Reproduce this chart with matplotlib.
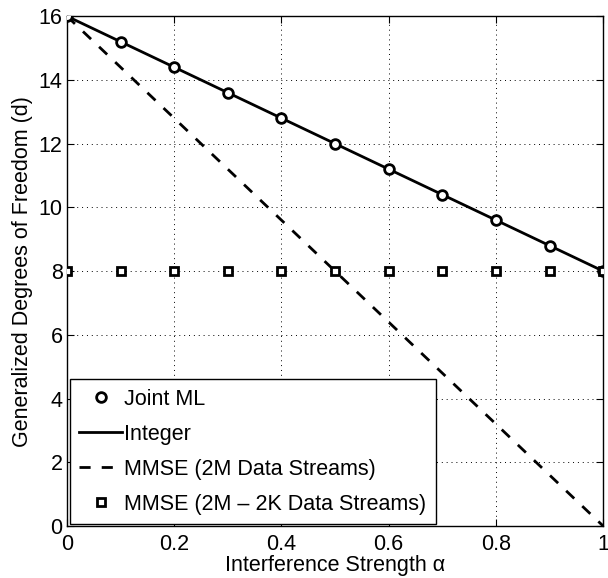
import matplotlib
matplotlib.use("Agg")
import matplotlib.pyplot as plt

plt.rcParams['font.family'] = ['Liberation Sans', 'DejaVu Sans']

# Данные
alpha = [0.0, 0.1, 0.2, 0.3, 0.4, 0.5, 0.6, 0.7, 0.8, 0.9, 1.0]
joint_ml = [16.0, 15.2, 14.4, 13.6, 12.8, 12.0, 11.2, 10.4, 9.6, 8.8, 8.0]
integer_x = [0.0, 1.0]
integer_y = [16.0, 8.0]
mmse_2m_x = [0.0, 1.0]
mmse_2m_y = [16.0, 0.0]
mmse_2m2k = [8, 8, 8, 8, 8, 8, 8, 8, 8, 8, 8]

fig = plt.figure(figsize=(6.08, 5.78), dpi=100)
ax = fig.add_axes([0.110, 0.090, 0.882, 0.882])

ax.plot(alpha, joint_ml, linestyle='none', marker='o', markersize=7,
        markerfacecolor='white', markeredgecolor='black', markeredgewidth=2,
        label='Joint ML', zorder=4)
ax.plot(integer_x, integer_y, color='black', linewidth=2, label='Integer', zorder=3)
ax.plot(mmse_2m_x, mmse_2m_y, color='black', linewidth=2, linestyle=(0, (4, 4)),
        label='MMSE (2M Data Streams)', zorder=3)
ax.plot(alpha, mmse_2m2k, linestyle='none', marker='s', markersize=6,
        markerfacecolor='white', markeredgecolor='black', markeredgewidth=2,
        label='MMSE (2M \u2013 2K Data Streams)', zorder=4)

ax.set_xlim(0, 1)
ax.set_ylim(0, 16)
ax.set_xticks([0, 0.2, 0.4, 0.6, 0.8, 1])
ax.set_xticklabels(['0', '0.2', '0.4', '0.6', '0.8', '1'])
ax.set_yticks(range(0, 17, 2))
ax.tick_params(direction='in', labelsize=15.5, length=5, top=True, right=True)
ax.tick_params(axis='x', pad=6)
ax.tick_params(axis='y', pad=3)
ax.grid(True, linestyle=(0, (1, 4)), color='black', linewidth=0.7)
for s in ax.spines.values():
    s.set_linewidth(1)

ax.set_xlabel('Interference Strength \u03b1', fontsize=15.5, labelpad=0)
ax.set_ylabel('Generalized Degrees of Freedom (d)', fontsize=15.5, labelpad=4)

# легенда в левом нижнем углу
leg = ax.legend(loc='lower left', bbox_to_anchor=(0.005, 0.003), fontsize=15.5,
                frameon=True, fancybox=False, edgecolor='black', framealpha=1,
                handlelength=2.0, handletextpad=0.1, borderaxespad=0,
                labelspacing=0.65, borderpad=0.45)
leg.get_frame().set_linewidth(1)

fig.savefig('out.png', dpi=100)
